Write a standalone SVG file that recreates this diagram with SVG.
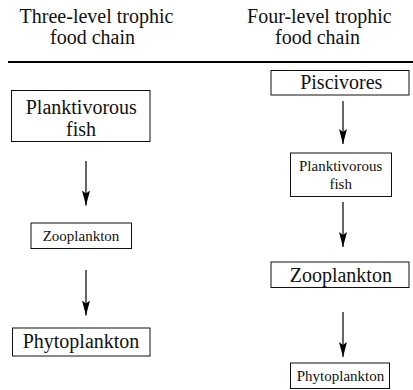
<svg xmlns="http://www.w3.org/2000/svg" width="413" height="390" viewBox="0 0 413 390">
<defs>
<style>
text{font-family:'Liberation Serif','DejaVu Serif',serif;fill:#111;text-anchor:middle}
.big{font-size:20px}
.small{font-size:15px}
.box{fill:#fff;stroke:#111;stroke-width:1}
.conn{stroke:#000;stroke-width:1.2;fill:none}
</style>
<marker id="ah" viewBox="0 0 15 8" refX="15" refY="4" markerWidth="15" markerHeight="8" markerUnits="userSpaceOnUse" orient="auto">
<path d="M0,0 L15,4 L0,8 L3,4 Z" fill="#000"/>
</marker>
</defs>
<rect width="413" height="390" fill="#fff"/>
<g id="headers">
<text class="big" x="96.5" y="23">Three-level trophic</text>
<text class="big" x="92.5" y="44">food chain</text>
<text class="big" x="319.3" y="23">Four-level trophic</text>
<text class="big" x="317.5" y="44">food chain</text>
<line x1="8" y1="62" x2="413" y2="62" stroke="#000" stroke-width="2"/>
</g>
<g id="l-plank">
<rect class="box" x="11.5" y="90.5" width="138.5" height="51"/>
<text class="big" x="81.3" y="114">Planktivorous</text>
<text class="big" x="81" y="136">fish</text>
</g>
<g id="l-zoo">
<rect class="box" x="31" y="223" width="100.5" height="25.5"/>
<text class="small" x="81" y="241">Zooplankton</text>
</g>
<g id="l-phyto">
<rect class="box" x="12.5" y="328" width="137.5" height="28"/>
<text class="big" x="81" y="347.5">Phytoplankton</text>
</g>
<g id="r-pisc">
<rect class="box" x="271" y="70.5" width="138" height="24.5"/>
<text class="big" x="341.3" y="89">Piscivores</text>
</g>
<g id="r-plank">
<rect class="box" x="290.5" y="153" width="101" height="43.5"/>
<text class="small" x="340.7" y="171">Planktivorous</text>
<text class="small" x="340.7" y="189">fish</text>
</g>
<g id="r-zoo">
<rect class="box" x="271" y="262" width="138" height="25.5"/>
<text class="big" x="340.8" y="281.5">Zooplankton</text>
</g>
<g id="r-phyto">
<rect class="box" x="290.5" y="363" width="99" height="25.5"/>
<text class="small" x="340.5" y="380.5">Phytoplankton</text>
</g>
<g id="connectors">
<line class="conn" x1="86" y1="161" x2="86" y2="205.5" marker-end="url(#ah)"/>
<line class="conn" x1="86" y1="270" x2="86" y2="315.5" marker-end="url(#ah)"/>
<line class="conn" x1="343" y1="101" x2="343" y2="144" marker-end="url(#ah)"/>
<line class="conn" x1="343" y1="202" x2="343" y2="247" marker-end="url(#ah)"/>
<line class="conn" x1="343" y1="312" x2="343" y2="357" marker-end="url(#ah)"/>
</g>
</svg>
